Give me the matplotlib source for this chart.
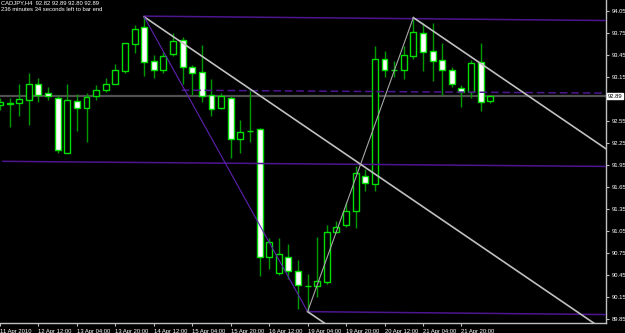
import matplotlib.pyplot as plt
from matplotlib.transforms import blended_transform_factory

# CADJPY H4 bars, first bar = 11 Apr 2010 20:00 (weekend bars skipped)
opens = [92.77, 92.79, 92.79, 92.83, 93.05, 92.93, 92.87, 92.12, 92.82, 92.73,
         92.89, 92.97, 93.06, 93.23, 93.60, 93.83, 93.37, 93.25, 93.46, 93.65,
         93.29, 93.22, 92.90, 92.73, 92.86, 92.30, 92.42, 92.44, 90.70, 90.48,
         90.70, 90.50, 90.30, 90.30, 90.36, 91.03, 91.13, 91.32, 91.80, 91.69,
         93.39, 93.24, 93.25, 93.44, 93.75, 93.51, 93.38, 93.25, 93.00, 92.95,
         93.36, 92.82]
highs = [92.86, 92.87, 93.05, 93.20, 93.13, 93.01, 92.90, 93.05, 92.92, 92.93,
         93.04, 93.13, 93.33, 93.62, 93.86, 93.97, 93.45, 93.49, 93.75, 93.69,
         93.32, 93.59, 93.12, 92.93, 92.89, 92.57, 92.97, 92.46, 90.96, 90.95,
         90.87, 90.66, 90.47, 90.97, 91.13, 91.19, 91.45, 91.93, 91.89, 93.57,
         93.51, 93.37, 93.57, 93.96, 93.88, 93.88, 93.61, 93.28, 93.04, 93.38,
         93.62, 92.89]
lows = [92.70, 92.47, 92.62, 92.50, 92.81, 92.83, 92.11, 92.11, 92.41, 92.27,
        92.83, 92.95, 93.05, 93.21, 93.48, 93.16, 93.13, 93.20, 93.43, 93.06,
        92.91, 92.81, 92.62, 92.71, 92.04, 92.11, 92.27, 90.43, 90.53, 90.45,
        90.39, 89.98, 89.95, 90.15, 90.33, 91.02, 91.10, 91.09, 91.59, 91.59,
        93.15, 93.15, 93.12, 93.40, 93.23, 93.10, 92.91, 93.02, 92.74, 92.87,
        92.68, 92.80]
closes = [92.81, 92.78, 92.85, 93.06, 92.91, 92.89, 92.16, 92.83, 92.73, 92.88,
          92.97, 93.06, 93.25, 93.61, 93.81, 93.36, 93.25, 93.44, 93.64, 93.29,
          93.20, 92.89, 92.72, 92.89, 92.30, 92.40, 92.41, 90.70, 90.90, 90.73,
          90.50, 90.31, 90.30, 90.37, 91.03, 91.11, 91.32, 91.84, 91.70, 93.40,
          93.25, 93.24, 93.45, 93.76, 93.49, 93.37, 93.24, 93.05, 92.95, 93.34,
          92.81, 92.89]

tick_bars = [0, 4, 8, 12, 16, 20, 24, 28, 32, 36, 40, 44, 48]
tick_labels = ["11 Apr 2010", "12 Apr 12:00", "13 Apr 04:00", "13 Apr 20:00",
               "14 Apr 12:00", "15 Apr 04:00", "15 Apr 20:00", "16 Apr 12:00",
               "19 Apr 04:00", "19 Apr 20:00", "20 Apr 12:00", "21 Apr 04:00",
               "21 Apr 20:00"]
price_ticks = [94.05, 93.75, 93.45, 93.15, 92.85, 92.55, 92.25, 91.95,
               91.65, 91.35, 91.05, 90.75, 90.45, 90.15, 89.85]
bid = 92.89

# zigzag swing points (peak, low, peak)
zz_bars = [15, 32, 43]
zz_prices = [93.97, 89.95, 93.96]

# parallel grey channel lines from the swing points
chan_bars = [15, 43, 32]
chan_prices = [93.97, 93.96, 89.95]
chan_slope = -0.0893

# purple levels: (bar0, price0, bar1, price1)
lvl_solid = [(15, 93.98, 63.2, 93.92),
             (0.3, 92.00, 63.2, 91.93),
             (32, 89.95, 63.2, 89.91)]
lvl_dashed = [(18.9, 92.97, 63.2, 92.93)]

BG = "black"
GREEN = "#00e000"
WICK = "#009a00"
PURPLE = "#4e1590"
SILVER = "#c0c0c0"

plt.rcParams['font.family'] = ['Liberation Sans', 'DejaVu Sans']

fig = plt.figure(figsize=(6.25, 3.33), dpi=100, facecolor=BG)
ax = fig.add_axes([0, 10 / 333, 606 / 625, 323 / 333], facecolor=BG)

n = len(opens)
bars = list(range(n))

ax.axhline(bid, color="#505050", lw=1.6, zorder=1)

ax.vlines(bars, lows, highs, color=WICK, lw=1, zorder=2)
for i in bars:
    o, c = opens[i], closes[i]
    fill = BG if c >= o else "white"
    ax.bar(i, max(abs(c - o), 0.005), bottom=min(o, c), width=0.62,
           facecolor=fill, edgecolor=GREEN, lw=1, zorder=3)

# levels
for b0, p0, b1, p1 in lvl_solid:
    ax.plot([b0, b1], [p0, p1], color=PURPLE, lw=1.1, zorder=4)
for b0, p0, b1, p1 in lvl_dashed:
    ax.plot([b0, b1], [p0, p1], color=PURPLE, lw=1.1, ls=(0, (5, 2.5)), zorder=4)

# channel
x_end = 66
for b, p in zip(chan_bars, chan_prices):
    ax.plot([b, x_end], [p, p + chan_slope * (x_end - b)], color=SILVER, lw=1.2, zorder=5)

# zigzag
ax.plot(zz_bars[:2], zz_prices[:2], color="#5e22b0", lw=0.8, zorder=5)
ax.plot(zz_bars[1:], zz_prices[1:], color="#a8a8a8", lw=0.8, zorder=5)

ax.set_xlim(0.31, 63.04)
ax.set_ylim(89.795, 94.20)

for s in ["left", "top"]:
    ax.spines[s].set_visible(False)
for s in ["right", "bottom"]:
    ax.spines[s].set_color(SILVER)
    ax.spines[s].set_linewidth(1)

ax.yaxis.tick_right()
ax.set_yticks(price_ticks)
# the 92.85 label sits under the bid box
ax.set_yticklabels(["" if abs(v - bid) < 0.1 else f"{v:.2f}" for v in price_ticks])
ax.set_xticks(tick_bars)
ax.set_xticklabels(tick_labels, ha="left")
ax.tick_params(axis="both", colors=SILVER, labelcolor="white", labelsize=4.2,
               length=2.5, width=0.8, pad=1.5)

tr = blended_transform_factory(ax.transAxes, ax.transData)
ax.text(1.003, bid, f"{bid:.2f}", transform=tr, fontsize=4.2, color="black",
        va="center", ha="left", zorder=10, clip_on=False,
        bbox=dict(boxstyle="square,pad=0.15", fc="white", ec="white"))

ax.text(0.002, 0.998, "CADJPY,H4  92.82 92.89 92.80 92.89", transform=ax.transAxes,
        fontsize=4.2, color="white", va="top", ha="left")
ax.text(0.002, 0.978, "236 minutes 34 seconds left to bar end", transform=ax.transAxes,
        fontsize=4.2, color="white", va="top", ha="left")

fig.savefig("out.png", dpi=100, facecolor=BG)
